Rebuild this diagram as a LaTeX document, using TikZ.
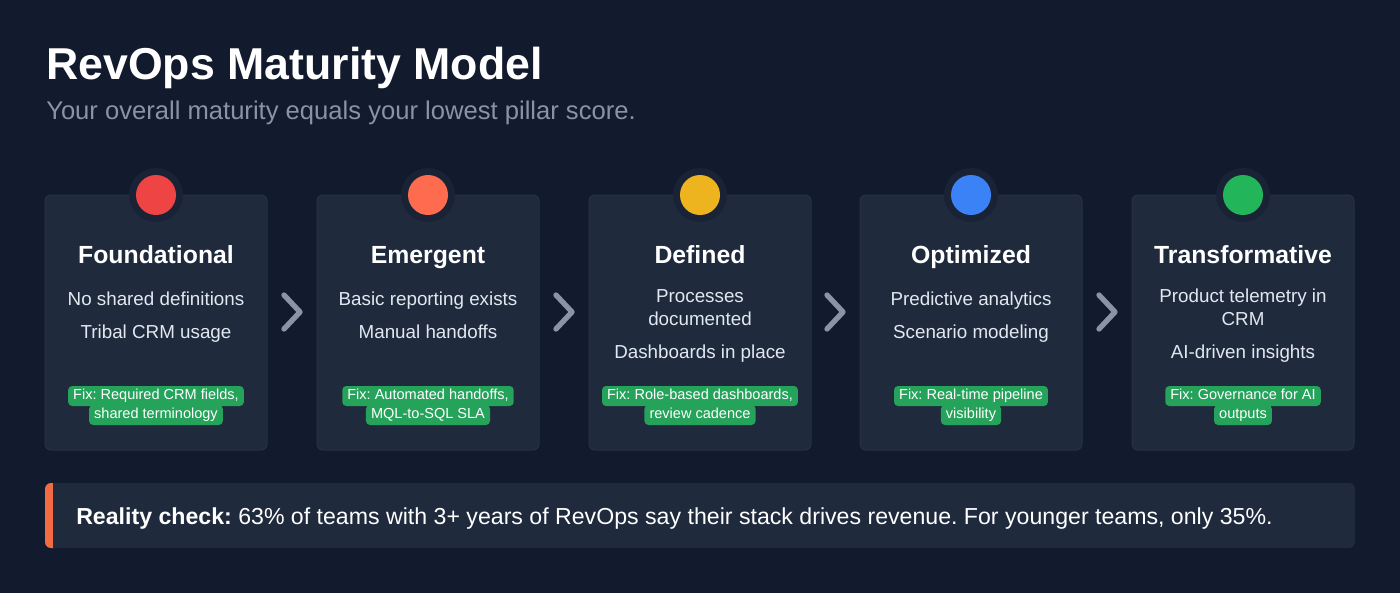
\documentclass[tikz,border=0pt]{standalone}
\usepackage{fontspec}
\setmainfont{Liberation Sans}
\frenchspacing
\definecolor{bg}{HTML}{121A2E}
\definecolor{card}{HTML}{1F2A3D}
\definecolor{cardline}{HTML}{263246}
\definecolor{ring}{HTML}{1A2336}
\definecolor{subgray}{HTML}{8A93A6}
\definecolor{itemtxt}{HTML}{E2E8F0}
\definecolor{chev}{HTML}{8B94A7}
\definecolor{badge}{HTML}{25A35A}
\definecolor{dred}{HTML}{EF4444}
\definecolor{dorange}{HTML}{FF6B4F}
\definecolor{dyellow}{HTML}{EEB420}
\definecolor{dblue}{HTML}{3B82F6}
\definecolor{dgreen}{HTML}{22B55A}
\definecolor{accent}{HTML}{F26B43}
\tikzset{
  cardbox/.style={fill=card, draw=cardline, line width=0.75pt, rounded corners=4.5pt},
  ringdot/.style={circle, fill=ring, minimum size=40.5pt, inner sep=0pt},
  dot/.style={circle, minimum size=30pt, inner sep=0pt},
  cardtitle/.style={text=white, font=\fontsize{18.6}{21}\selectfont\bfseries, anchor=base, inner sep=0pt},
  item/.style={text=itemtxt, font=\fontsize{14.1}{17.25}\selectfont, align=center, anchor=base, inner sep=0pt},
  badgeline/.style={fill=badge, rounded corners=3pt, text=white, font=\fontsize{10.9}{12}\selectfont,
     inner xsep=3.8pt, inner ysep=2.4pt, text height=7.9pt, text depth=2.3pt, anchor=center},
  chevline/.style={draw=chev, line width=4pt, line cap=round, line join=round},
}
\begin{document}
\begin{tikzpicture}[x=0.75pt,y=-0.75pt]
\fill[bg] (0,0) rectangle (1400,593);
\useasboundingbox (0,0) rectangle (1400,593);
% title
\node[anchor=base west, inner sep=0pt, text=white, font=\fontsize{33.5}{40}\selectfont\bfseries] (title) at (46,79) {RevOps Maturity Model};
\node[anchor=base west, inner sep=0pt, text=subgray, font=\fontsize{19.2}{22}\selectfont] (subtitle) at (46,119) {Your overall maturity equals your lowest pillar score.};
% cards
\foreach \cx/\name/\col in {156/c1/dred, 428/c2/dorange, 700/c3/dyellow, 971/c4/dblue, 1243/c5/dgreen}{
  \draw[cardbox] (\cx-111,195) rectangle (\cx+111,450);
  \node[ringdot] (\name ring) at (\cx,195) {};
  \node[dot, fill=\col] (\name dot) at (\cx,195) {};
}
\node[cardtitle] (t1) at (156,263) {Foundational};
\node[cardtitle] (t2) at (428,263) {Emergent};
\node[cardtitle] (t3) at (700,263) {Defined};
\node[cardtitle] (t4) at (971,263) {Optimized};
\node[cardtitle] (t5) at (1243,263) {Transformative};
% items
\node[item] (i11) at (156,305) {No shared definitions};
\node[item] (i12) at (156,338) {Tribal CRM usage};
\node[item] (i21) at (428,305) {Basic reporting exists};
\node[item] (i22) at (428,338) {Manual handoffs};
\node[item] (i31a) at (700,302) {Processes};
\node[item] (i31b) at (700,325) {documented};
\node[item] (i32) at (700,358) {Dashboards in place};
\node[item] (i41) at (971,305) {Predictive analytics};
\node[item] (i42) at (971,338) {Scenario modeling};
\node[item] (i51a) at (1243,302) {Product telemetry in};
\node[item] (i51b) at (1243,325) {CRM};
\node[item] (i52) at (1243,358) {AI-driven insights};
% badges
\node[badgeline] (b11) at (156,396) {Fix: Required CRM fields,};
\node[badgeline] (b12) at (156,415) {shared terminology};
\node[badgeline] (b21) at (428,396) {Fix: Automated handoffs,};
\node[badgeline] (b22) at (428,415) {MQL-to-SQL SLA};
\node[badgeline] (b31) at (700,396) {Fix: Role-based dashboards,};
\node[badgeline] (b32) at (700,415) {review cadence};
\node[badgeline] (b41) at (971,396) {Fix: Real-time pipeline};
\node[badgeline] (b42) at (971,415) {visibility};
\node[badgeline] (b51) at (1243,396) {Fix: Governance for AI};
\node[badgeline] (b52) at (1243,415) {outputs};
% chevrons
\foreach \x in {292,564,835,1107}{
  \draw[chevline] (\x-8,295) -- (\x+8,312) -- (\x-8,329);
}
% bottom bar
\fill[card, rounded corners=4.5pt] (45,483) rectangle (1355,548);
\fill[accent, rounded corners=4.5pt] (45,483) rectangle (60,548);
\fill[card] (53,483) rectangle (62,548);
\node[anchor=base west, inner sep=0pt, text=white, font=\fontsize{17.35}{20}\selectfont] (reality) at (76,524) {\textbf{Reality check:} 63\% of teams with 3+ years of RevOps say their stack drives revenue. For younger teams, only 35\%.};
\end{tikzpicture}
\end{document}
